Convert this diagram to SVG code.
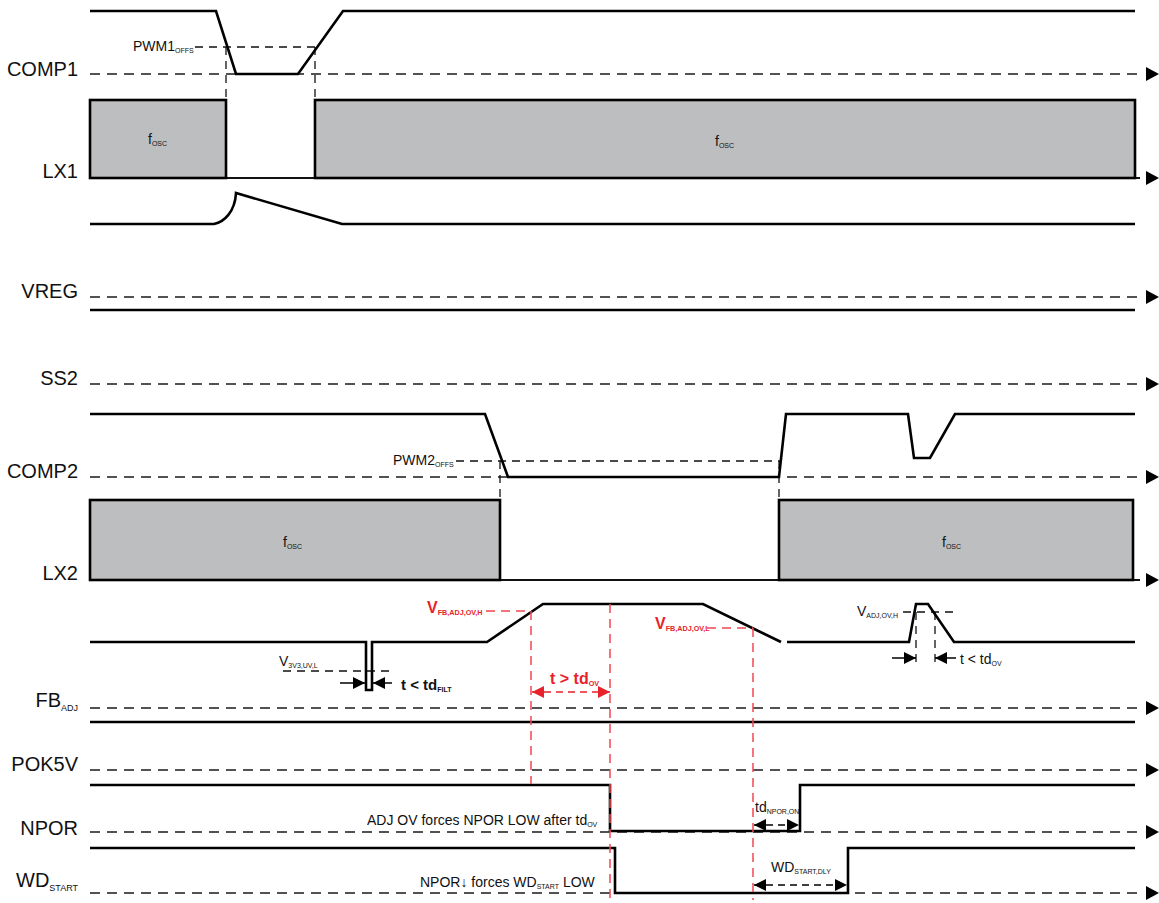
<svg xmlns="http://www.w3.org/2000/svg" width="1159" height="903" viewBox="0 0 1159 903">
<defs>
<style>
.wave{fill:none;stroke:#000;stroke-width:2.6;stroke-linejoin:miter}
.axis{fill:none;stroke:#1a1a1a;stroke-width:1.6;stroke-dasharray:10 7}
.base{fill:none;stroke:#111;stroke-width:2.2}
.ref{fill:none;stroke:#111;stroke-width:1.3;stroke-dasharray:8 6}
.red{fill:none;stroke:#ef4850;stroke-width:1.5;stroke-dasharray:9 6}
.box{fill:#bcbec0;stroke:#000;stroke-width:2.6}
.lbl{font-family:"Liberation Sans",Arial,sans-serif;font-size:20px;fill:#111}
.t{font-family:"Liberation Sans",Arial,sans-serif;font-size:14px;fill:#111}
.tb{font-family:"Liberation Sans",Arial,sans-serif;font-size:15px;font-weight:bold;fill:#111}
.tr{font-family:"Liberation Sans",Arial,sans-serif;font-size:16px;font-weight:bold;fill:#e8222b}
.sub{font-size:7px}
.subr{font-size:7.2px}
.arr{fill:none;stroke:#000;stroke-width:1.5}
.arrd{fill:none;stroke:#000;stroke-width:1.5;stroke-dasharray:7 5}
.arrr{fill:none;stroke:#e8222b;stroke-width:1.5;stroke-dasharray:7 5}
</style>
<path id="axhead" d="M0,-7 L13,0 L0,7 Z" fill="#000"/>
<marker id="ah" viewBox="0 0 10 10" refX="10" refY="5" markerWidth="12" markerHeight="12" markerUnits="userSpaceOnUse" orient="auto-start-reverse">
<path d="M0,0 L10,5 L0,10 Z" fill="#000"/>
</marker>
<marker id="ahr" viewBox="0 0 10 10" refX="10" refY="5" markerWidth="12" markerHeight="12" markerUnits="userSpaceOnUse" orient="auto-start-reverse">
<path d="M0,0 L10,5 L0,10 Z" fill="#e8222b"/>
</marker>
</defs>
<rect width="1159" height="903" fill="#fff"/>

<g id="axes">
<line class="axis" x1="90" y1="74" x2="1140" y2="74"/>
<line class="base" x1="90" y1="178" x2="1140" y2="178"/>
<line class="axis" x1="90" y1="297" x2="1140" y2="297"/>
<line class="axis" x1="90" y1="384" x2="1140" y2="384"/>
<line class="axis" x1="90" y1="477" x2="1140" y2="477"/>
<line class="base" x1="90" y1="580" x2="1140" y2="580"/>
<line class="axis" x1="90" y1="708" x2="1140" y2="708"/>
<line class="axis" x1="90" y1="770" x2="1140" y2="770"/>
<line class="axis" x1="90" y1="832" x2="1140" y2="832"/>
<line class="axis" x1="90" y1="893" x2="1140" y2="893"/>
<use href="#axhead" x="1146" y="74"/>
<use href="#axhead" x="1146" y="178"/>
<use href="#axhead" x="1146" y="297"/>
<use href="#axhead" x="1146" y="384"/>
<use href="#axhead" x="1146" y="477"/>
<use href="#axhead" x="1146" y="580"/>
<use href="#axhead" x="1146" y="708"/>
<use href="#axhead" x="1146" y="770"/>
<use href="#axhead" x="1146" y="832"/>
<use href="#axhead" x="1146" y="893"/>
</g>

<g id="labels">
<text class="lbl" x="78" y="76" text-anchor="end">COMP1</text>
<text class="lbl" x="78" y="178" text-anchor="end">LX1</text>
<text class="lbl" x="78" y="298" text-anchor="end">VREG</text>
<text class="lbl" x="78" y="385" text-anchor="end">SS2</text>
<text class="lbl" x="78" y="478" text-anchor="end">COMP2</text>
<text class="lbl" x="78" y="580" text-anchor="end">LX2</text>
<text class="lbl" x="78" y="707" text-anchor="end">FB<tspan font-size="9" dy="4">ADJ</tspan></text>
<text class="lbl" x="78" y="771" text-anchor="end">POK5V</text>
<text class="lbl" x="78" y="835" text-anchor="end">NPOR</text>
<text class="lbl" x="78" y="887" text-anchor="end">WD<tspan font-size="9" dy="4">START</tspan></text>
</g>

<g id="comp1">
<line class="ref" x1="195" y1="47" x2="315" y2="47"/>
<line class="ref" x1="226" y1="47" x2="226" y2="100"/>
<line class="ref" x1="315" y1="47" x2="315" y2="100"/>
<path class="wave" d="M90,11 H216 L236,74 H298 L343,11 H1135"/>
<text class="t" x="133" y="51">PWM1<tspan class="sub" dy="2">OFFS</tspan></text>
</g>

<g id="lx1">
<rect class="box" x="90" y="100" width="136" height="78"/>
<rect class="box" x="315" y="100" width="820" height="78"/>
<text class="t" x="148" y="144">f<tspan class="sub" dy="2">OSC</tspan></text>
<text class="t" x="715" y="146">f<tspan class="sub" dy="2">OSC</tspan></text>
</g>

<g id="vreg">
<path class="wave" d="M90,224 H214 C224,222 235,212 236,193 L342,224 H1135"/>
</g>

<g id="ss2">
<path class="wave" d="M90,310 H1135"/>
</g>

<g id="comp2">
<line class="ref" x1="456" y1="461" x2="780" y2="461"/>
<line class="ref" x1="500" y1="461" x2="500" y2="500"/>
<line class="ref" x1="779" y1="461" x2="779" y2="500"/>
<path class="wave" d="M90,414 H485 L508,477 H779 L786,414 H908 L914,458 H930 L955,414 H1135"/>
<text class="t" x="393" y="465">PWM2<tspan class="sub" dy="2">OFFS</tspan></text>
</g>

<g id="lx2">
<rect class="box" x="90" y="500" width="410" height="80"/>
<rect class="box" x="779" y="500" width="354" height="80"/>
<text class="t" x="283" y="547">f<tspan class="sub" dy="2">OSC</tspan></text>
<text class="t" x="942" y="547">f<tspan class="sub" dy="2">OSC</tspan></text>
</g>

<g id="fbadj">
<line class="ref" x1="283" y1="671" x2="395" y2="671"/>
<line class="ref" x1="903" y1="612" x2="953" y2="612"/>
<line class="ref" x1="916" y1="612" x2="916" y2="664"/>
<line class="ref" x1="935" y1="612" x2="935" y2="664"/>
<path class="wave" d="M90,642 H366 V690 H372 V642 H487 L543,604 H703 L781,642 M787,642 H909 L916,604 H928 L954,642 H1135"/>
<text class="t" x="279" y="666">V<tspan class="sub" dy="2">3V3,UV,L</tspan></text>
<text class="tb" x="401" y="690">t &lt; td<tspan class="sub" dy="2">FILT</tspan></text>
<text class="t" x="857" y="616">V<tspan class="sub" dy="2">ADJ,OV,H</tspan></text>
<text class="t" x="960" y="664">t &lt; td<tspan class="sub" dy="2">OV</tspan></text>
</g>

<g id="pok5v">
<path class="wave" d="M90,722 H1135"/>
</g>

<g id="npor">
<path class="wave" d="M90,785 H610 V831 H800 V785 H1135"/>
<text class="t" x="367" y="825">ADJ OV forces NPOR LOW after td<tspan class="sub" dy="2">OV</tspan></text>
<text class="t" x="755" y="812">td<tspan class="sub" dy="2">NPOR,ON</tspan></text>
</g>

<g id="wdstart">
<path class="wave" d="M90,848 H615 V893 H848 V848 H1135"/>
<text class="t" x="420" y="887">NPOR↓ forces WD<tspan class="sub" dy="2">START</tspan><tspan dy="-2"> LOW</tspan></text>
<text class="t" x="771" y="872">WD<tspan class="sub" dy="2">START,DLY</tspan></text>
</g>

<g id="thresholds">
<line class="red" x1="486" y1="611" x2="530" y2="611"/>
<line class="red" x1="707" y1="628" x2="753" y2="628"/>
<line class="red" x1="531" y1="611" x2="531" y2="784"/>
<line class="red" x1="610" y1="604" x2="610" y2="900"/>
<line class="red" x1="753" y1="628" x2="753" y2="900"/>
<text class="tr" x="427" y="613">V<tspan class="subr" dy="2">FB,ADJ,OV,H</tspan></text>
<text class="tr" x="655" y="629">V<tspan class="subr" dy="2">FB,ADJ,OV,L</tspan></text>
<text class="tr" x="550" y="684">t &gt; td<tspan class="subr" dy="2">OV</tspan></text>
</g>

<g id="connectors">
<line class="arr" x1="340" y1="683" x2="365" y2="683" marker-end="url(#ah)"/>
<line class="arr" x1="392" y1="683" x2="373" y2="683" marker-end="url(#ah)"/>
<line class="arr" x1="892" y1="658" x2="916" y2="658" marker-end="url(#ah)"/>
<line class="arr" x1="956" y1="658" x2="935" y2="658" marker-end="url(#ah)"/>
<line class="arrr" x1="532" y1="692" x2="610" y2="692" marker-start="url(#ahr)" marker-end="url(#ahr)"/>
<line class="arrd" x1="754" y1="825" x2="799" y2="825" marker-start="url(#ah)" marker-end="url(#ah)"/>
<line class="arrd" x1="754" y1="885" x2="847" y2="885" marker-start="url(#ah)" marker-end="url(#ah)"/>
</g>
</svg>
